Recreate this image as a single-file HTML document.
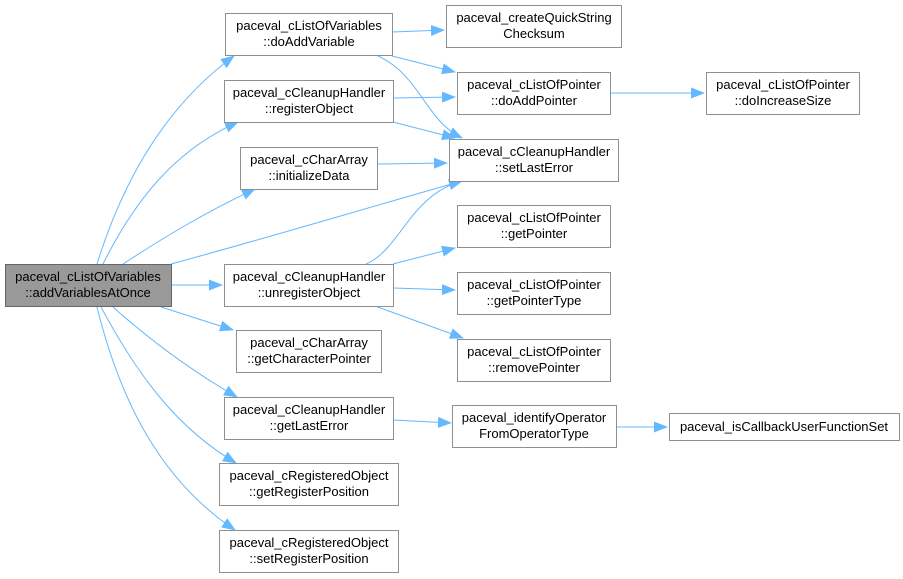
<!DOCTYPE html>
<html><head><meta charset="utf-8"><style>
html,body{margin:0;padding:0;background:#fff;}
svg{display:block;}
text{font-family:"Liberation Sans",Arial,sans-serif;font-size:13px;fill:#000;}
.b{fill:#fff;stroke:#8f8f8f;stroke-width:1;}
.e{fill:none;stroke:#63b8ff;stroke-width:1;}
</style></head><body>
<svg width="903" height="579" viewBox="0 0 903 579" xmlns="http://www.w3.org/2000/svg">
<defs><marker id="m" markerWidth="14" markerHeight="11" refX="13" refY="5.5" orient="auto" markerUnits="userSpaceOnUse"><path d="M0,0 L14,5.5 L0,11 z" fill="#63b8ff"/></marker></defs>
<g class="e" marker-end="url(#m)">
<path d="M97,264 C120,190 160,110 234,56"/>
<path d="M103,264 C135,200 175,150 238,122"/>
<path d="M123,264 C160,240 200,215 255,189"/>
<path d="M171,264 C260,240 360,210 462,181"/>
<path d="M171,285 L222,285"/>
<path d="M161,307 L233,330"/>
<path d="M113,307 C150,340 190,370 237,397"/>
<path d="M101,307 C140,380 180,430 236,463"/>
<path d="M97,307 C120,400 160,480 235,530"/>
<path d="M392,32 L444,30"/>
<path d="M392,56 L455,72"/>
<path d="M378,56 C420,75 425,120 462,138"/>
<path d="M393,98 L455,97"/>
<path d="M393,122 L455,138"/>
<path d="M377,164 L447,163"/>
<path d="M366,264 C400,250 410,195 462,181"/>
<path d="M393,264 L455,248"/>
<path d="M393,288 L455,290"/>
<path d="M375,306 L463,338"/>
<path d="M611,93 L704,93"/>
<path d="M393,420 L451,423"/>
<path d="M617,427 L667,427"/>
</g>
<rect x="5.5" y="264.5" width="166" height="42" fill="#999" stroke="#666"/>
<text x="88" y="281" text-anchor="middle">paceval_cListOfVariables</text>
<text x="88" y="297" text-anchor="middle">::addVariablesAtOnce</text>
<g>
<rect class="b" x="225.5" y="13.5" width="167" height="42"/><text x="309" y="30" text-anchor="middle">paceval_cListOfVariables</text><text x="309" y="46" text-anchor="middle">::doAddVariable</text>
<rect class="b" x="224.5" y="80.5" width="169" height="42"/><text x="309" y="97" text-anchor="middle">paceval_cCleanupHandler</text><text x="309" y="113" text-anchor="middle">::registerObject</text>
<rect class="b" x="240.5" y="147.5" width="137" height="42"/><text x="309" y="164" text-anchor="middle">paceval_cCharArray</text><text x="309" y="180" text-anchor="middle">::initializeData</text>
<rect class="b" x="224.5" y="264.5" width="169" height="42"/><text x="309" y="281" text-anchor="middle">paceval_cCleanupHandler</text><text x="309" y="297" text-anchor="middle">::unregisterObject</text>
<rect class="b" x="236.5" y="330.5" width="145" height="42"/><text x="309" y="347" text-anchor="middle">paceval_cCharArray</text><text x="309" y="363" text-anchor="middle">::getCharacterPointer</text>
<rect class="b" x="224.5" y="397.5" width="169" height="42"/><text x="309" y="414" text-anchor="middle">paceval_cCleanupHandler</text><text x="309" y="430" text-anchor="middle">::getLastError</text>
<rect class="b" x="219.5" y="463.5" width="179" height="42"/><text x="309" y="480" text-anchor="middle">paceval_cRegisteredObject</text><text x="309" y="496" text-anchor="middle">::getRegisterPosition</text>
<rect class="b" x="219.5" y="530.5" width="179" height="42"/><text x="309" y="547" text-anchor="middle">paceval_cRegisteredObject</text><text x="309" y="563" text-anchor="middle">::setRegisterPosition</text>
<rect class="b" x="446.5" y="5.5" width="175" height="42"/><text x="534" y="22" text-anchor="middle">paceval_createQuickString</text><text x="534" y="38" text-anchor="middle">Checksum</text>
<rect class="b" x="457.5" y="72.5" width="153" height="42"/><text x="534" y="89" text-anchor="middle">paceval_cListOfPointer</text><text x="534" y="105" text-anchor="middle">::doAddPointer</text>
<rect class="b" x="449.5" y="139.5" width="169" height="42"/><text x="534" y="156" text-anchor="middle">paceval_cCleanupHandler</text><text x="534" y="172" text-anchor="middle">::setLastError</text>
<rect class="b" x="457.5" y="205.5" width="153" height="42"/><text x="534" y="222" text-anchor="middle">paceval_cListOfPointer</text><text x="534" y="238" text-anchor="middle">::getPointer</text>
<rect class="b" x="457.5" y="272.5" width="153" height="42"/><text x="534" y="289" text-anchor="middle">paceval_cListOfPointer</text><text x="534" y="305" text-anchor="middle">::getPointerType</text>
<rect class="b" x="457.5" y="339.5" width="153" height="42"/><text x="534" y="356" text-anchor="middle">paceval_cListOfPointer</text><text x="534" y="372" text-anchor="middle">::removePointer</text>
<rect class="b" x="452.5" y="405.5" width="164" height="42"/><text x="534" y="422" text-anchor="middle">paceval_identifyOperator</text><text x="534" y="438" text-anchor="middle">FromOperatorType</text>
<rect class="b" x="706.5" y="72.5" width="153" height="42"/><text x="783" y="89" text-anchor="middle">paceval_cListOfPointer</text><text x="783" y="105" text-anchor="middle">::doIncreaseSize</text>
<rect class="b" x="669.5" y="413.5" width="230" height="27"/><text x="784" y="431" text-anchor="middle">paceval_isCallbackUserFunctionSet</text>
</g>
</svg>
</body></html>
